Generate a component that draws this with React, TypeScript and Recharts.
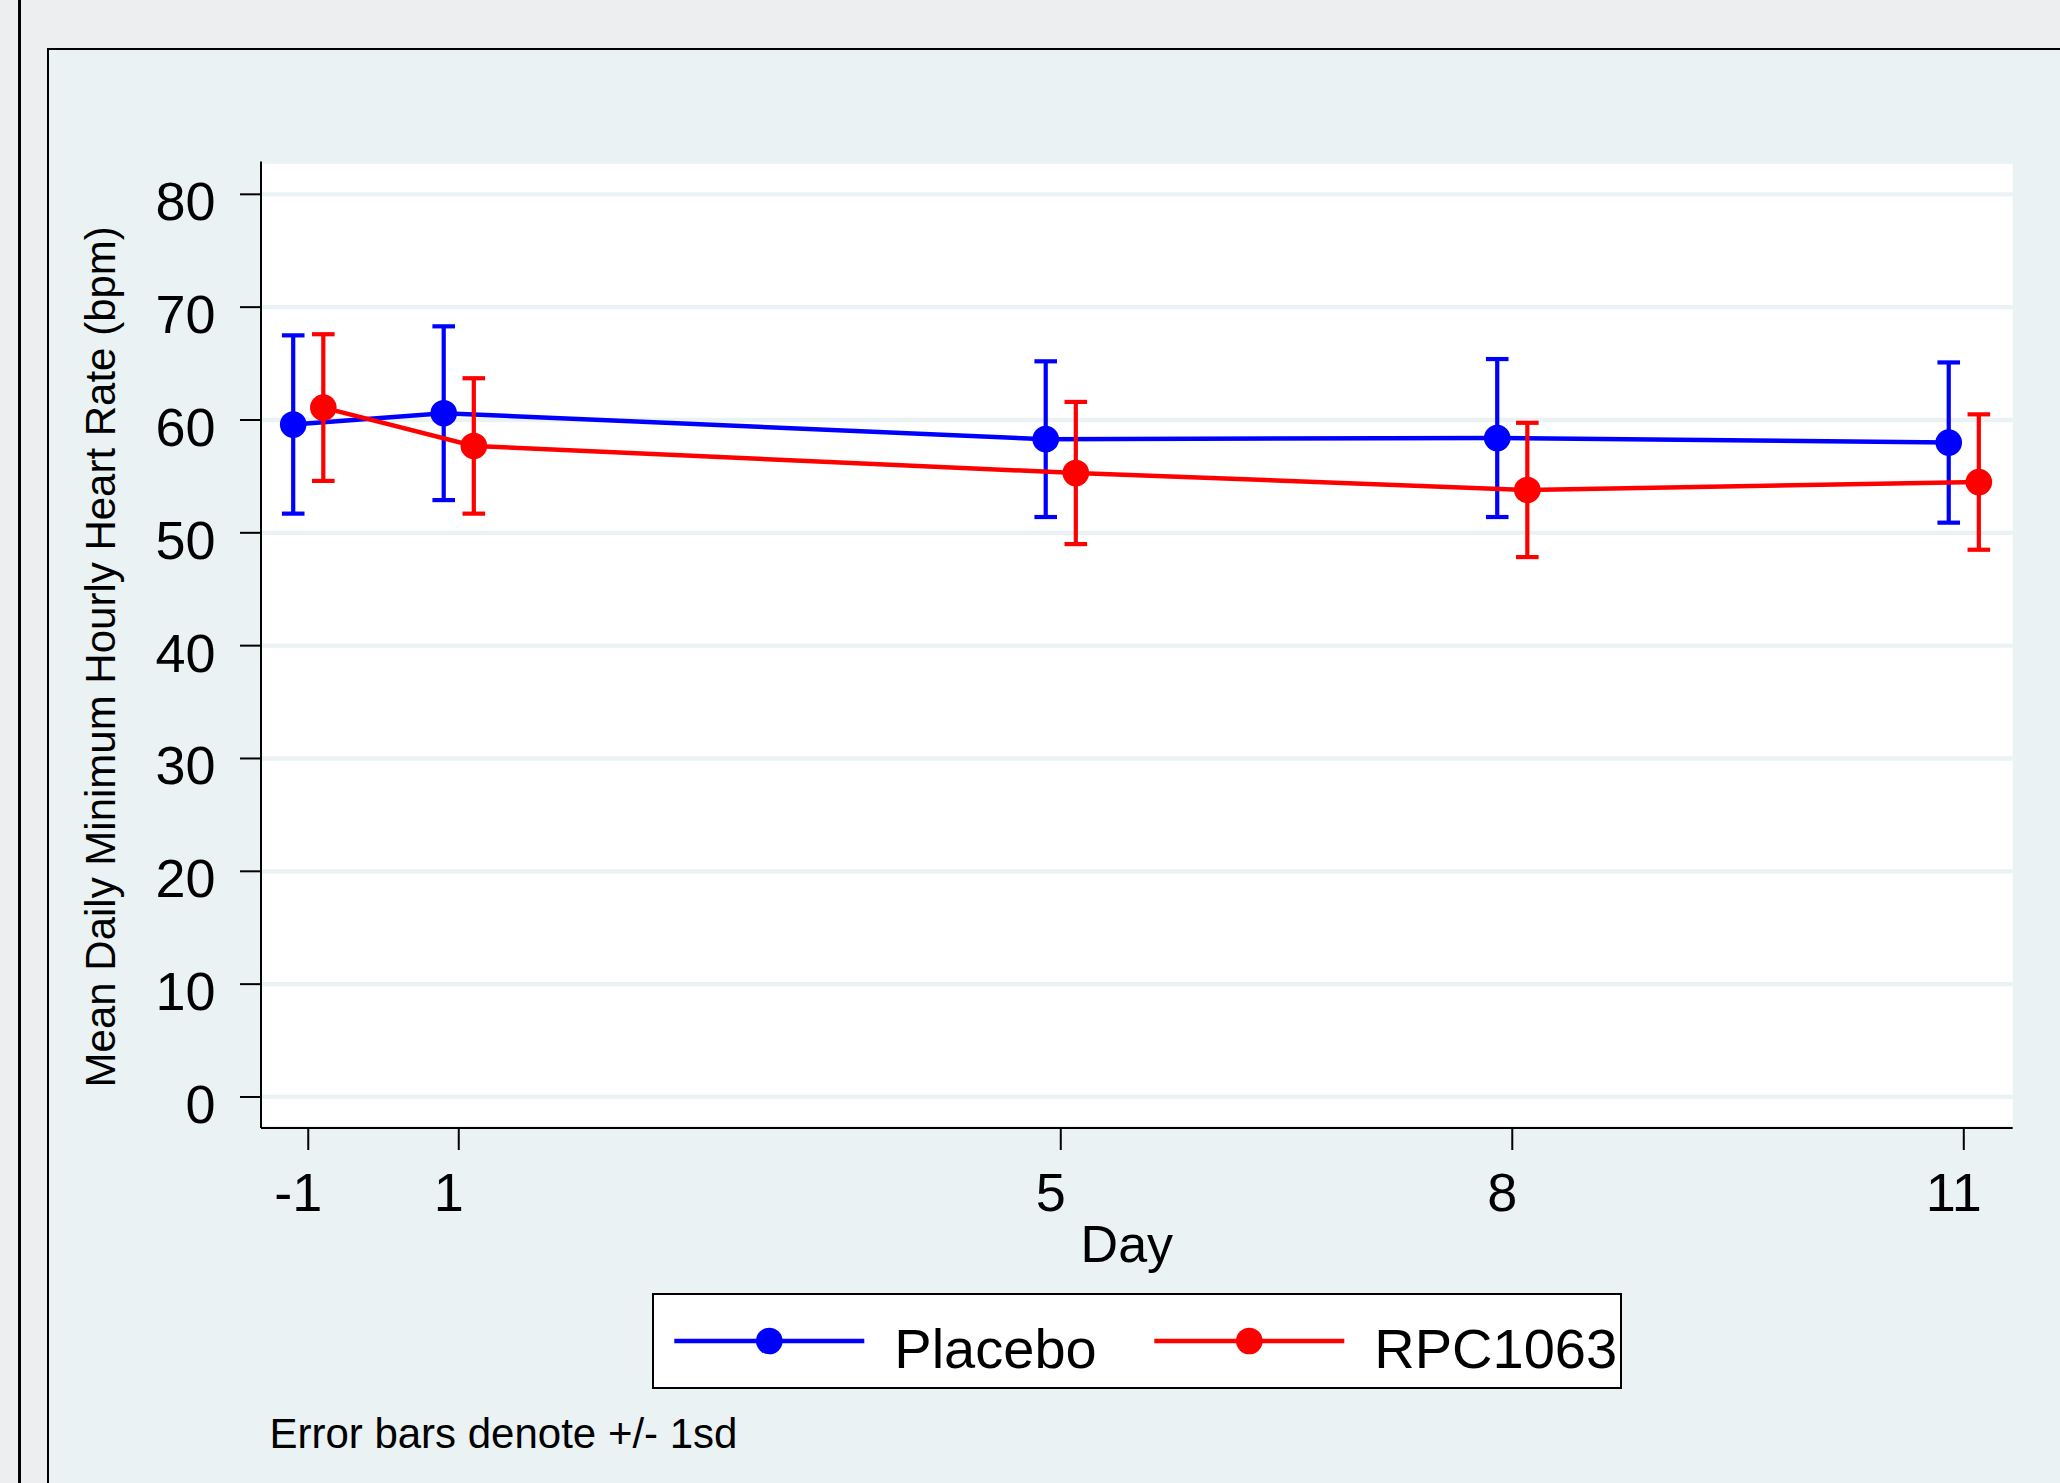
import React from 'react';
import { ComposedChart, Line, XAxis, YAxis, CartesianGrid, ErrorBar, Legend } from 'recharts';

const FONT = '"Liberation Sans", Arial, Helvetica, sans-serif';

// ---- data ----
const days = [-1, 1, 5, 8, 11];
// day -1 is drawn at axis position 0 in the source figure
const dayAxisPos = [0, 1, 5, 8, 11];
const yTicks = [0, 10, 20, 30, 40, 50, 60, 70, 80];

const seriesNames = ['Placebo', 'RPC1063'];
const seriesColors = ['#0000FF', '#FF0000'];
const seriesDodge = [-0.1, 0.1];

const placeboMean = [59.6, 60.6, 58.3, 58.4, 58.0];
const placeboSd = [7.9, 7.7, 6.9, 7.0, 7.1];
const rpcMean = [61.1, 57.7, 55.3, 53.8, 54.5];
const rpcSd = [6.5, 6.0, 6.3, 5.95, 6.0];

const buildSeries = (means: number[], sds: number[], dodge: number) =>
  days.map((d, i) => ({ day: d, x: dayAxisPos[i] + dodge, mean: means[i], sd: sds[i] }));

const placeboData = buildSeries(placeboMean, placeboSd, seriesDodge[0]);
const rpcData = buildSeries(rpcMean, rpcSd, seriesDodge[1]);

const XTick = (props: any) => {
  const { x, y, payload } = props;
  const idx = dayAxisPos.indexOf(payload.value);
  const label = idx >= 0 ? String(days[idx]) : String(payload.value);
  return (
    <text x={x - 10} y={y + 61} textAnchor="middle" fontSize={54} fontFamily={FONT} fill="#000">
      {label}
    </text>
  );
};

const YTick = (props: any) => {
  const { x, y, payload } = props;
  return (
    <text x={x - 24.5} y={y + 26} textAnchor="end" fontSize={54} fontFamily={FONT} fill="#000">
      {payload.value}
    </text>
  );
};

const renderYLabel = (props: any) => {
  const vb = props.viewBox || { x: 61, y: 161.6, width: 200, height: 966.4 };
  const cx = vb.x + 54;
  const cy = vb.y + vb.height / 2 + 12;
  return (
    <text
      x={cx}
      y={cy}
      transform={`rotate(-90 ${cx} ${cy})`}
      textAnchor="middle"
      fontSize={42}
      fontFamily={FONT}
      fill="#000"
    >
      Mean Daily Minimum Hourly Heart Rate (bpm)
    </text>
  );
};

const renderXLabel = (props: any) => {
  const vb = props.viewBox || { x: 261, y: 1128, width: 1751.7, height: 100 };
  const cx = vb.x + vb.width / 2 - 10;
  const cy = vb.y + 133.7;
  return (
    <text x={cx} y={cy} textAnchor="middle" fontSize={52} fontFamily={FONT} fill="#000">
      Day
    </text>
  );
};

const LegendBox = () => (
  <svg width={970} height={96} style={{ display: 'block', overflow: 'visible' }}>
    <rect x={1} y={1} width={968} height={94} fill="#FFFFFF" stroke="#000" strokeWidth={2} />
    {seriesNames.map((name, i) => {
      const lx = 22.3 + i * 480;
      const color = seriesColors[i];
      return (
        <g key={name}>
          <line x1={lx} x2={lx + 190} y1={48} y2={48} stroke={color} strokeWidth={4.3} />
          <circle cx={lx + 95} cy={48} r={13.3} fill={color} />
          <text x={lx + 220} y={74.6} fontSize={56} fontFamily={FONT} fill="#000">
            {name}
          </text>
        </g>
      );
    })}
  </svg>
);

export default function App() {
  return (
    <div
      style={{
        position: 'absolute',
        left: 0,
        top: 0,
        width: 2060,
        height: 1483,
        overflow: 'hidden',
        background: '#EDEEF0',
        fontFamily: FONT,
      }}
    >
      <div style={{ position: 'absolute', left: 18.3, top: 0, width: 2.4, height: 1483, background: '#000' }} />
      <div
        style={{
          position: 'absolute',
          left: 47.3,
          top: 48.3,
          width: 2100,
          height: 1500,
          background: '#EAF2F3',
          borderTop: '2.2px solid #000',
          borderLeft: '2px solid #000',
        }}
      />
      <div style={{ position: 'absolute', left: 0, top: 0 }}>
        <ComposedChart
          width={2060}
          height={1483}
          margin={{ top: 161.6, right: 47.3, bottom: 255, left: 61 }}
        >
          <CartesianGrid
            vertical={false}
            horizontal={true}
            stroke="#EAF2F3"
            strokeWidth={4.3}
            fill="#FFFFFF"
            fillOpacity={1}
          />
          <XAxis
            type="number"
            dataKey="x"
            domain={[-0.314, 11.325]}
            ticks={dayAxisPos}
            allowDataOverflow
            height={100}
            tickSize={22}
            tickMargin={0}
            tick={<XTick />}
            axisLine={{ stroke: '#000', strokeWidth: 2 }}
            tickLine={{ stroke: '#000', strokeWidth: 2 }}
            label={{ value: 'Day', content: renderXLabel }}
            interval={0}
          />
          <YAxis
            type="number"
            domain={[-2.75, 82.9]}
            ticks={yTicks}
            allowDataOverflow
            width={200}
            tickSize={21}
            tickMargin={0}
            tick={<YTick />}
            axisLine={{ stroke: '#000', strokeWidth: 2 }}
            tickLine={{ stroke: '#000', strokeWidth: 2 }}
            label={{ value: 'Mean Daily Minimum Hourly Heart Rate (bpm)', content: renderYLabel }}
            interval={0}
          />
          <Line
            data={placeboData}
            dataKey="mean"
            name={seriesNames[0]}
            type="linear"
            stroke={seriesColors[0]}
            strokeWidth={4.5}
            dot={{ r: 13.3, fill: seriesColors[0], stroke: seriesColors[0], strokeWidth: 0 }}
            activeDot={false}
            isAnimationActive={false}
          >
            <ErrorBar dataKey="sd" direction="y" width={11.3} stroke={seriesColors[0]} strokeWidth={4.2} isAnimationActive={false} />
          </Line>
          <Line
            data={rpcData}
            dataKey="mean"
            name={seriesNames[1]}
            type="linear"
            stroke={seriesColors[1]}
            strokeWidth={4.5}
            dot={{ r: 13.3, fill: seriesColors[1], stroke: seriesColors[1], strokeWidth: 0 }}
            activeDot={false}
            isAnimationActive={false}
          >
            <ErrorBar dataKey="sd" direction="y" width={11.3} stroke={seriesColors[1]} strokeWidth={4.2} isAnimationActive={false} />
          </Line>
          <Legend
            layout="vertical"
            align="center"
            verticalAlign="middle"
            content={<LegendBox />}
            wrapperStyle={{ left: 651.7, top: 1292.7, width: 970, height: 96 }}
          />
        </ComposedChart>
      </div>
      <div
        style={{
          position: 'absolute',
          left: 269.4,
          top: 1412.5,
          fontSize: 42,
          lineHeight: '42px',
          color: '#000',
          whiteSpace: 'nowrap',
        }}
      >
        Error bars denote +/- 1sd
      </div>
    </div>
  );
}
